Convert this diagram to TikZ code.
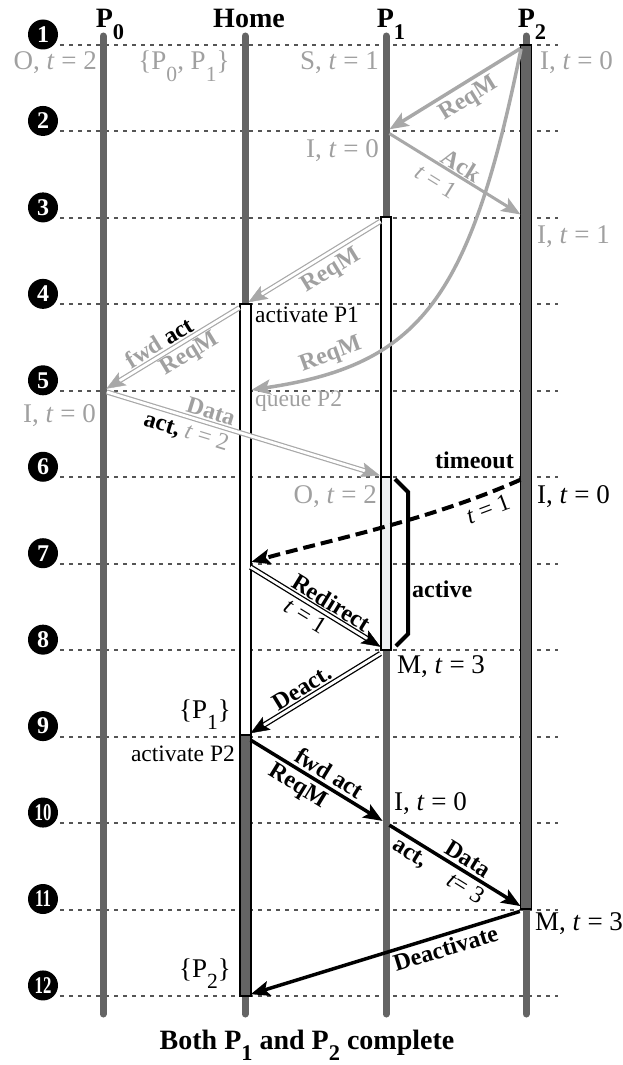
\documentclass[tikz,border=0pt]{standalone}
\usepackage{fontspec}
\setmainfont{Liberation Serif}
\usetikzlibrary{arrows.meta,decorations.markings}
\definecolor{lifegray}{HTML}{646464}
\definecolor{gridgray}{HTML}{555555}
\definecolor{msggray}{HTML}{A8A8A8}
\definecolor{txtgray}{HTML}{A0A0A0}
\definecolor{boxgray}{HTML}{EEF0F2}
\newcommand{\lo}[1]{\raisebox{-0.42em}{\scalebox{0.8}{#1}}}
\newcommand{\tq}[1]{\textit{t} = #1}

\begin{document}
\begin{tikzpicture}[x=1pt,y=-1pt,
  every node/.style={inner sep=0pt},
  state/.style={font=\fontsize{27}{29}\selectfont},
  small/.style={font=\fontsize{23.5}{26}\selectfont},
  msg/.style={font=\bfseries\fontsize{24}{26}\selectfont, sloped},
  plainmsg/.style={font=\fontsize{24}{26}\selectfont, sloped},
  title/.style={font=\bfseries\fontsize{28}{30}\selectfont, anchor=base},
  lifeline/.style={draw=lifegray, line width=7pt, line cap=round},
  grid/.style={draw=gridgray, line width=2pt, dash pattern=on 4pt off 5pt},
  actbox/.style={draw=black, line width=1.2pt},
  tip/.style={-{Stealth[length=19pt,width=15pt,inset=4pt]}},
  gmsg/.style={tip, draw=msggray, line width=3.5pt, shorten <=6.5pt, shorten >=6.5pt},
  bmsg/.style={tip, draw=black, line width=3.5pt, shorten <=6.5pt, shorten >=6.5pt},
  dbl/.style={draw=#1, line width=1.2pt, double=white, double distance=2.8pt, shorten <=6.5pt},
  dtip/.style 2 args={decoration={markings, mark=at position -#2 with
    {\arrow{Stealth[length=19pt,width=15pt,inset=4pt,color=#1]}}}, postaction=decorate},
]
\useasboundingbox (0,0) rectangle (623,1065);

% lifeline crossings
\foreach \n/\x in {P0/103,H/245,P1/386,P2/526}
  \foreach \r in {1,...,12}
    \coordinate (\n-\r) at (\x,{45+(\r-1)*86.45});
\coordinate (c0) at (521,49);

% rows
\foreach \r in {1,...,12} {
  \draw[grid] (60,{45+(\r-1)*86.45}) -- (558,{45+(\r-1)*86.45});
  \node[circle, fill=black, text=white, minimum size=30pt,
    font=\bfseries\fontsize{24}{24}\selectfont] (n\r) at (43,{34.5+(\r-1)*86.45})
    {\ifnum\r>9 \scalebox{0.7}[1]{\r}\else\r\fi};
}

% lifelines
\foreach \x in {103,245,386,526}
  \draw[lifeline] (\x,36) -- (\x,1014);
\filldraw[actbox, fill=lifegray] (520.5,45) rectangle (531.5,909);
\filldraw[actbox, fill=white] (381,217) rectangle (391,477);
\filldraw[actbox, fill=boxgray] (381,477) rectangle (391,650);
\filldraw[actbox, fill=white] (240,304) rectangle (251,735);
\filldraw[actbox, fill=lifegray] (240,735) rectangle (251,996);

% titles
\node[title] (tP0) at (110,28) {P\lo{0}};
\node[title] (tH) at (249,28) {Home};
\node[title] (tP1) at (391,28) {P\lo{1}};
\node[title] (tP2) at (532,28) {P\lo{2}};

% states
\node[state, text=txtgray, anchor=base east] (s1) at (97,70) {O, \tq{2}};
\node[state, text=txtgray, anchor=base] (s2) at (184,70) {\{P\lo{0}, P\lo{1}\}};
\node[state, text=txtgray, anchor=base east] (s3) at (379,70) {S, \tq{1}};
\node[state, text=txtgray, anchor=base west] (s4) at (540,70) {I, \tq{0}};
\node[state, text=txtgray, anchor=base east] (s5) at (379,157) {I, \tq{0}};
\node[state, text=txtgray, anchor=base west] (s6) at (537,243) {I, \tq{1}};
\node[small, anchor=base west] (s7) at (255,322) {activate P1};
\node[small, text=txtgray, anchor=base west] (s8) at (255,406) {queue P2};
\node[state, text=txtgray, anchor=base east] (s9) at (96,422) {I, \tq{0}};
\node[state, text=txtgray, anchor=base east] (s10) at (377,503) {O, \tq{2}};
\node[state, anchor=base west] (s11) at (537,503) {I, \tq{0}};
\node[msg, sloped=false, anchor=base east] (s12) at (514,468) {timeout};
\node[state, anchor=base west] (s13) at (397,673) {M, \tq{3}};
\node[state, anchor=base east] (s14) at (231,718) {\{P\lo{1}\}};
\node[small, anchor=base east] (s15) at (235,761) {activate P2};
\node[state, anchor=base west] (s16) at (394,810) {I, \tq{0}};
\node[state, anchor=base west] (s17) at (535,930) {M, \tq{3}};
\node[state, anchor=base east] (s18) at (231,977) {\{P\lo{2}\}};
\node[msg, sloped=false, anchor=base west] (act) at (412,597) {active};
\node[title] (cap) at (307,1049) {Both P\lo{1} and P\lo{2} complete};

\draw[line width=4pt] (395,479) -- (408,492) -- (408,634) -- (396,646);

% messages
\draw[gmsg, shorten >=4pt] (P2-1) -- (P1-2)
  node[msg, pos=0.47, below=4pt, text=txtgray] (m1) {ReqM};
\draw[gmsg, line width=3pt, shorten <=4pt] (P1-2) -- (P2-3)
  node[msg, pos=0.5, above=1pt, text=txtgray] (m2) {Ack}
  node[plainmsg, pos=0.42, below=7pt, text=txtgray] (m2t) {\tq{1}};
\draw[gmsg, shorten <=0pt] (c0) .. controls (470,300) and (420,365) .. (H-5)
  node[msg, pos=0.8, above=3pt, text=txtgray] (m3) {ReqM};

\draw[dbl=msggray, shorten >=15pt] (P1-3) -- (H-4)
  node[msg, pos=0.45, below=6pt, text=txtgray] (m4) {ReqM};
\path[dtip={msggray}{4pt}] (P1-3) -- (H-4);
\draw[dbl=msggray, shorten >=15pt] (H-4) -- (P0-5)
  node[msg, pos=0.56, above=3pt, text=txtgray] (m5a) {fwd \textcolor{black}{act}}
  node[msg, pos=0.44, below=3pt, text=txtgray] (m5b) {ReqM};
\path[dtip={msggray}{4pt}] (H-4) -- (P0-5);
\draw[dbl=msggray, shorten <=4pt, shorten >=17.5pt] (P0-5) -- (P1-6)
  node[msg, pos=0.37, above=3pt, text=txtgray] (m6a) {Data}
  node[plainmsg, pos=0.31, below=5pt, text=txtgray] (m6b) {\textbf{\textcolor{black}{act,}} \tq{2}};
\path[dtip={msggray}{6.5pt}] (P0-5) -- (P1-6);

\draw[bmsg, line width=4pt, dash pattern=on 12pt off 6pt, shorten <=6pt]
  (P2-6) .. controls (430,520) and (330,540) .. (H-7)
  node[plainmsg, pos=0.15, below=5pt] (m7) {\tq{1}};

\draw[dbl=black, line width=1.3pt, shorten >=17.5pt] (H-7) -- (P1-8)
  node[msg, pos=0.57, above=3pt] (m8a) {Redirect}
  node[plainmsg, pos=0.48, below=4pt] (m8b) {\tq{1}};
\path[dtip={black}{6.5pt}] (H-7) -- (P1-8);
\draw[dbl=black, line width=1.3pt, shorten >=17.5pt] (P1-8) -- (H-9)
  node[msg, pos=0.55, above=3pt] (m9) {Deact.};
\path[dtip={black}{6.5pt}] (P1-8) -- (H-9);

\draw[bmsg, shorten >=4pt] (H-9) -- (P1-10)
  node[msg, pos=0.55, above=3pt] (m10a) {fwd act}
  node[msg, pos=0.43, below=3pt] (m10b) {ReqM};
\draw[bmsg, shorten <=4pt] (P1-10) -- (P2-11)
  node[msg, pos=0.54, above=3pt] (m11a) {Data}
  node[msg, pos=0.22, below=4pt] (m11b) {act,}
  node[plainmsg, pos=0.62, below=3pt] (m11c) {\textit{t}= 3};
\draw[bmsg, shorten >=6pt] (P2-11) -- (H-12)
  node[msg, pos=0.3, below=3pt] (m12) {Deactivate};
\end{tikzpicture}
\end{document}
